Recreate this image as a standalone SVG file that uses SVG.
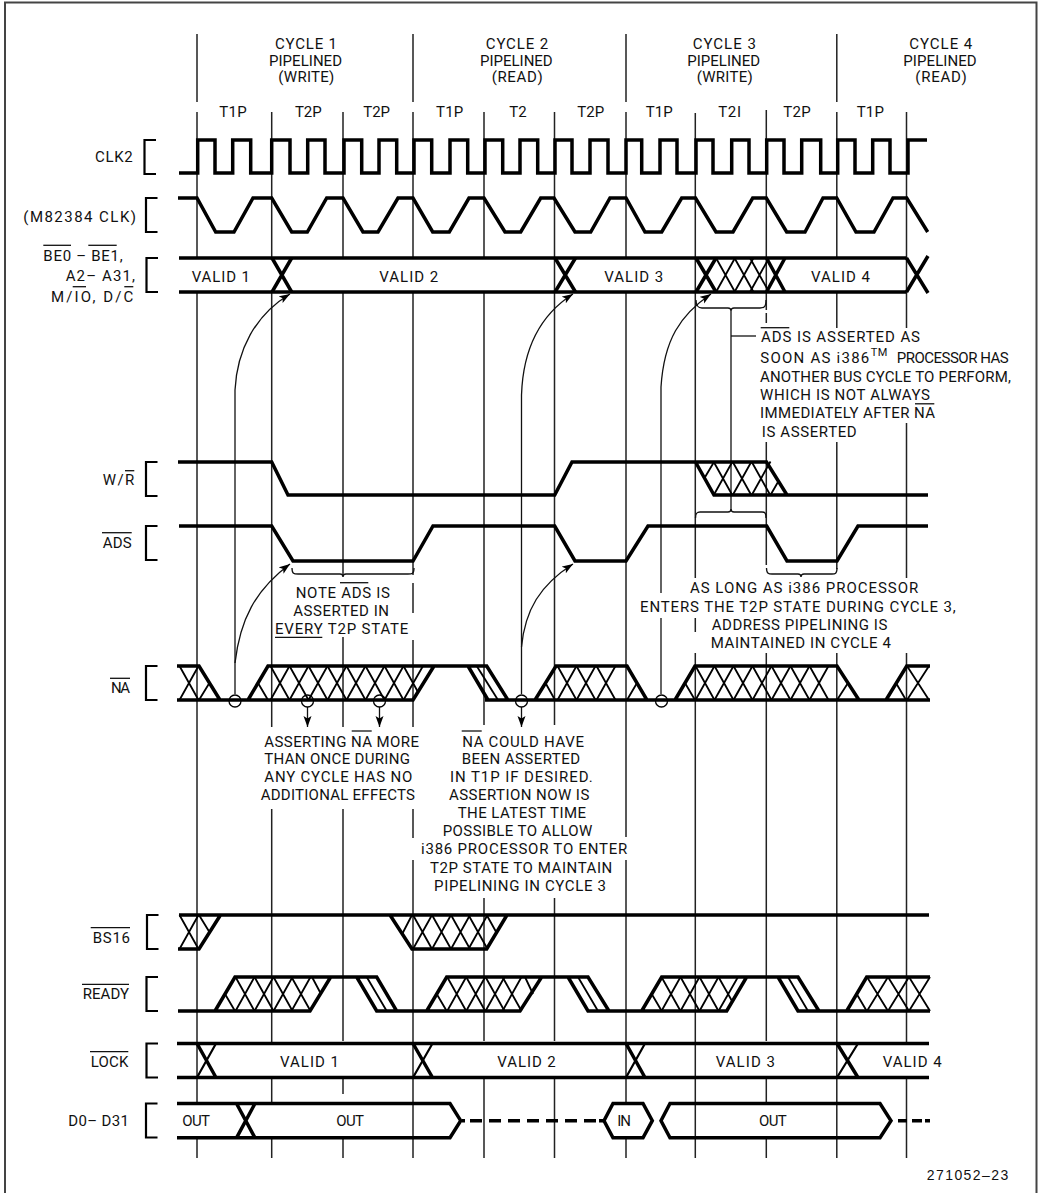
<svg xmlns="http://www.w3.org/2000/svg" width="1041" height="1193" viewBox="0 0 1041 1193">
<style>
text{font-family:Roboto,"Liberation Sans",Arial,sans-serif;font-size:15px;fill:#111}
.sm{font-size:11px}
.fig{font-family:"Liberation Sans",Arial,sans-serif;font-size:14px}
path,line{fill:none;stroke:#000}
.w{stroke-width:3.5;stroke-linejoin:miter}
.n{stroke-width:1.8}
.b{stroke-width:2.2}
.g{stroke-width:1.5;stroke:#222}
.o{stroke-width:1.3;stroke:#111}
.d{stroke-width:3.5;stroke-dasharray:12 7}
circle{fill:none;stroke:#000;stroke-width:1.3}
</style>
<defs>
<path id="x" class="n" d="M-9.5 -17L9.5 17M-9.5 17L9.5 -17"/>
<path id="br" class="b" d="M11.5 0H0V34H11.5"/>
<marker id="ah" markerUnits="userSpaceOnUse" markerWidth="12" markerHeight="10" refX="11" refY="4" orient="auto"><path d="M0 0L11 4L0 8L2.5 4Z" style="fill:#000;stroke:none"/></marker>
</defs>
<rect width="1041" height="1193" fill="#fff"/>
<path id="frame" d="M5 1193V2.5H1036.5V1193" style="stroke:#444;stroke-width:2"/>

<g id="connectors">
<g id="grid">
<path class="g" d="M197 34V102M197 112V258M197 292V1103M197 1138V1158"/>
<path class="g" d="M271.7 112V258M271.7 292V727M271.7 809V1043M271.7 1078V1103M271.7 1138V1158"/>
<path class="g" d="M343 112V258M343 292V575M343 637V727M343 809V1041M343 1078V1094M343 1138V1158"/>
<path class="g" d="M413 34V102M413 112V258M413 292V575M413 583V613M413 640V727M413 809V838M413 860V1158"/>
<path class="g" d="M484 112V258M484 292V725M484 898V1041M484 1078V1158"/>
<path class="g" d="M554.5 112V725M554.5 898V1041M554.5 1078V1158"/>
<path class="g" d="M626 34V102M626 112V258M626 292V837M626 860V1103M626 1138V1158"/>
<path class="g" d="M695.3 113V578M695.3 618V632M695.3 653V1158"/>
<path class="g" d="M766.3 110V310M766.3 313V323M766.3 442V565M766.3 653V1041M766.3 1078V1103M766.3 1138V1158"/>
<path class="g" d="M836.8 34V102M836.8 112V258M836.8 292V328M836.8 442V569M836.8 653V1158"/>
<path class="g" d="M906.5 112V328M906.5 423V578M906.5 653V1043M906.5 1078V1158"/>
</g>
<g id="arrows">
<path class="o" d="M235 694V390C237 350 255 315 290 294" marker-end="url(#ah)"/>
<path class="o" d="M235 663C240 620 255 590 290 564" marker-end="url(#ah)"/>
<path class="o" d="M521.5 694V395C523 350 540 315 573 294" marker-end="url(#ah)"/>
<path class="o" d="M521.5 647C525 610 540 585 573 564" marker-end="url(#ah)"/>
<path class="o" d="M661 593V387C664 340 680 315 711 294" marker-end="url(#ah)"/>
<path class="o" d="M661 618V694"/>
<path class="o" d="M307.5 707V727" marker-end="url(#ah)"/>
<path class="o" d="M379.5 707V727" marker-end="url(#ah)"/>
<path class="o" d="M521.5 707V727" marker-end="url(#ah)"/>
<circle cx="235" cy="701" r="6"/>
<circle cx="307.5" cy="701" r="6"/>
<circle cx="379.5" cy="701" r="6"/>
<circle cx="521.5" cy="701" r="6"/>
<circle cx="661.5" cy="701" r="6"/>
</g>
<g id="braces">
<path class="o" d="M292 568C292 574 294 574 298 574H340C342 574 343 575 343 577C343 575 344 574 346 574H408C412 574 414 574 414 568"/>
<path class="o" d="M696 300C696 307 699 308 702 308H728C730 308 731 309 731 311C731 309 732 308 734 308H760C764 308 766 307 766 300"/>
<path class="o" d="M731 311V511"/>
<path class="o" d="M731 336H756"/>
<path class="o" d="M695.5 518C695.5 513 697 512 700 512H728C730 512 731 511 731 509C731 511 732 512 734 512H762C765 512 766 513 766 518"/>
<path class="o" d="M766.5 568C766.5 574 769 574 772 574H798C800 574 801 575 801 577C801 575 802 574 804 574H832C835 574 837 574 837 568"/>
</g>
</g>

<g id="headers">
<text x="275" y="49.3" textLength="62">CYCLE 1</text>
<text x="269" y="65.7" textLength="73">PIPELINED</text>
<text x="278.3" y="81.7" textLength="56">(WRITE)</text>
<text x="485.7" y="49.3" textLength="62.6">CYCLE 2</text>
<text x="480" y="65.7" textLength="72.7">PIPELINED</text>
<text x="491.7" y="81.7" textLength="51">(READ)</text>
<text x="692.7" y="49.3" textLength="63.3">CYCLE 3</text>
<text x="687.3" y="65.7" textLength="72.7">PIPELINED</text>
<text x="696.7" y="81.7" textLength="56">(WRITE)</text>
<text x="909.3" y="49.3" textLength="63">CYCLE 4</text>
<text x="903.3" y="65.7" textLength="73.4">PIPELINED</text>
<text x="915.3" y="81.7" textLength="51.4">(READ)</text>
</g>
<g id="states">
<text x="219.3" y="117.3" textLength="27.4">T1P</text>
<text x="295" y="117.3" textLength="26.7">T2P</text>
<text x="363.3" y="117.3" textLength="26.7">T2P</text>
<text x="436" y="117.3" textLength="27.3">T1P</text>
<text x="509.3" y="117.3" textLength="17.4">T2</text>
<text x="577.3" y="117.3" textLength="27">T2P</text>
<text x="645.7" y="117.3" textLength="27">T1P</text>
<text x="718.3" y="117.3" textLength="22.7">T2I</text>
<text x="783.3" y="117.3" textLength="27.4">T2P</text>
<text x="856.7" y="117.3" textLength="27.3">T1P</text>
</g>

<g id="clk2">
<text x="95" y="162.3" textLength="37.7">CLK2</text>
<use href="#br" x="144.5" y="140"/>
<path class="w" d="M179 173H197.7V140H215V173H232.7V140H250.7V173H271.7V140H290V173H307.7V140H325V173H344V140H361.7V173H379V140H396.7V173H414V140H431.7V173H450V140H467.7V173H485V140H502.7V173H520V140H537.7V173H555V140H572V173H590V140H608V173H626V140H641.7V173H660V140H677V173H696V140H713V173H731.7V140H749V173H766.7V140H784V173H801.7V140H820.7V173H837.7V140H855V173H872.7V140H890V173H908V140H927"/>
</g>
<g id="m82384">
<text x="23.3" y="221.7" textLength="112.7">(M82384 CLK)</text>
<use href="#br" x="146" y="198"/>
<path class="w" d="M178 198H197L215.7 232H234L253 198H271.7L291.7 232H307.3L326.7 198H343L363 232H378L398 198H413L432.7 232H449.3L469 198H484L505 232H520.7L540.7 198H554L575 232H590.7L610 198H626L645 232H661.7L681.7 198H695.5L716 232H733L752.7 198H766.3L786.7 232H805L823 198H836.7L856 232H874L893 198H906.7L927.7 232"/>
</g>
<g id="bus">
<text x="43.3" y="260.7" textLength="79.4">BE0 – BE1,</text>
<line class="o" x1="43.3" y1="245.3" x2="71" y2="245.3"/>
<line class="o" x1="88.3" y1="245.3" x2="116.7" y2="245.3"/>
<text x="65.7" y="280.7" textLength="69.3">A2– A31,</text>
<text x="51" y="302.3" textLength="82.3">M/IO, D/C</text>
<line class="o" x1="72.7" y1="286.7" x2="86" y2="286.7"/>
<line class="o" x1="124.3" y1="286.7" x2="133.3" y2="286.7"/>
<use href="#br" x="146.5" y="258"/>
<path class="w" d="M179 258H906.5M179 292H906.5"/>
<path class="w" d="M272 258L291.7 292M272 292L291.7 258M555 258L575.5 292M555 292L575.5 258M696 258L716 292M696 292L716 258M766.5 258L785 292M766.5 292L785 258M906.5 292L928 256M906.5 258L928 293"/>
<use href="#x" x="725.5" y="275"/><use href="#x" x="744" y="275"/>
<use href="#x" x="759.5" y="275"/>
<text x="191.7" y="281.7" textLength="58.3">VALID 1</text>
<text x="379.3" y="281.7" textLength="59">VALID 2</text>
<text x="604.3" y="281.7" textLength="59">VALID 3</text>
<text x="811" y="281.7" textLength="59">VALID 4</text>
</g>
<g id="wr">
<text x="102.7" y="485" textLength="31.6">W/R</text>
<line class="o" x1="125" y1="470.7" x2="134.3" y2="470.7"/>
<use href="#br" x="146" y="462"/>
<path class="w" d="M178 462H271.7L288 495H554.7L572 462H766.5L787 495H928M695.5 462L714 495H787"/>
<g><use href="#x" x="723" y="478.5"/><use href="#x" x="742" y="478.5"/><use href="#x" x="761" y="478.5"/></g>
<path class="n" d="M704.5 478L714 462M770.5 495L778 482"/>
</g>
<g id="ads">
<text x="102.7" y="548.3" textLength="29">ADS</text>
<line class="o" x1="102" y1="532.7" x2="131.7" y2="532.7"/>
<use href="#br" x="146" y="526"/>
<path class="w" d="M179 526H271.7L293 561H413L433 526H554.7L575 561H626L648 526H766.7L787 561H837L858 526H928"/>
</g>
<g id="na">
<text x="111" y="693.3" textLength="19">NA</text>
<line class="o" x1="110" y1="678.3" x2="130" y2="678.3"/>
<use href="#br" x="146" y="666"/>
<path class="w" d="M177 666H199L220 700M177 700H413L434 666M248 700L268 666H486.7L508 700H485M468 666L488 700M508 700H647L627 666H556L535 700M647 700H859L837 666H695L675 700M859 700H930M886 700L906.7 666H930"/>
<path class="n" d="M476.7 666L498 700"/>
<g><use href="#x" x="189" y="683"/>
<use href="#x" x="280" y="683"/><use href="#x" x="299" y="683"/><use href="#x" x="318" y="683"/><use href="#x" x="337" y="683"/><use href="#x" x="356" y="683"/><use href="#x" x="375" y="683"/><use href="#x" x="394" y="683"/>
<use href="#x" x="567" y="683"/><use href="#x" x="586" y="683"/><use href="#x" x="606" y="683"/>
<use href="#x" x="705" y="683"/><use href="#x" x="724" y="683"/><use href="#x" x="743" y="683"/><use href="#x" x="762" y="683"/><use href="#x" x="781" y="683"/><use href="#x" x="800" y="683"/><use href="#x" x="819" y="683"/></g>
<path class="n" d="M199 700L210 682M258 683L268 700M403.5 666L418 692M403.5 700L423 666M545.5 683L555 700M627 700L637 683M685 683L695 700M837 700L848 683M896 683L906 700M907 666L929 700M907 700L929 666"/>
</g>
<g id="bs16">
<text x="92.7" y="942.7" textLength="37.3">BS16</text>
<line class="o" x1="90.7" y1="927.7" x2="130" y2="927.7"/>
<use href="#br" x="147" y="915"/>
<path class="w" d="M179 915H929M178 949H199L220.5 915M390 915L412 949H486.7L507 915"/>
<g><use href="#x" x="189" y="932"/>
<use href="#x" x="422.5" y="932"/><use href="#x" x="441.5" y="932"/><use href="#x" x="460.5" y="932"/><use href="#x" x="478" y="932"/></g>
<path class="n" d="M199 915L210 933M402.7 933L412 915M486.7 915L496.7 933"/>
</g>
<g id="ready">
<text x="82.7" y="999.3" textLength="46.3">READY</text>
<line class="o" x1="82" y1="984.3" x2="129" y2="984.3"/>
<use href="#br" x="146.5" y="977"/>
<path class="w" d="M178 1011H310L330.7 977M215 1011L235 977H376.7L396.7 1011H376.7L356.7 977M396.7 1011H520L541.7 977H446.7L426.7 1011M541.7 977H588L609 1011H588L568 977M609 1011H726.7L746.7 977H661.7L641.7 1011M746.7 977H798L819 1011H798L778 977M819 1011H930M846.7 1011L866.7 977H930"/>
<path class="n" d="M366.7 977L386.7 1011M578 977L598 1011M788 977L808 1011"/>
<g><use href="#x" x="245" y="994"/><use href="#x" x="264" y="994"/><use href="#x" x="283" y="994"/><use href="#x" x="301" y="994"/>
<use href="#x" x="456.7" y="994"/><use href="#x" x="475.7" y="994"/><use href="#x" x="495" y="994"/><use href="#x" x="512" y="994"/>
<use href="#x" x="671" y="994"/><use href="#x" x="690" y="994"/><use href="#x" x="709" y="994"/></g>
<path class="n" d="M718.5 1011L738 977M718.5 977L732 1001M225 994L235 1011M312 977L321 994M436.7 994L446.7 1011M525 977L533 994M651.7 994L661.7 1011M856.7 994L866.7 1011M867 977L888 1011M867 1011L888 977M888 977L909 1011M888 1011L909 977M909 977L930 1011M909 1011L930 977"/>
</g>
<g id="lock">
<text x="90.7" y="1066.7" textLength="37.6">LOCK</text>
<line class="o" x1="90" y1="1051.7" x2="128.3" y2="1051.7"/>
<use href="#br" x="146.5" y="1043.5"/>
<path class="w" d="M177 1043.5H929M177 1077.5H929M197 1043.5L216 1077.5M413 1043.5L432.5 1077.5M626 1043.5L645 1077.5M837 1043.5L858 1077.5"/>
<path class="b" d="M197 1077.5L216 1043.5M413 1077.5L432.5 1043.5M626 1077.5L645 1043.5M837 1077.5L858 1043.5"/>
<text x="280" y="1066.7" textLength="59">VALID 1</text>
<text x="497.3" y="1066.7" textLength="58.4">VALID 2</text>
<text x="715.7" y="1066.7" textLength="59.3">VALID 3</text>
<text x="882.7" y="1066.7" textLength="59">VALID 4</text>
</g>
<g id="data">
<text x="68.3" y="1126" textLength="60.7">D0– D31</text>
<use href="#br" x="146" y="1103.5"/>
<path class="w" d="M177 1103.5H450L460.7 1120.7L450 1137.8H177M236.5 1103.5L255 1137.8M236.5 1137.8L255 1103.5"/>
<path class="w" d="M613 1103.5H643L652.3 1120.7L643 1137.8H613L604 1120.7Z"/>
<path class="w" d="M670 1103.5H880L891 1120.7L880 1137.8H670L661 1120.7Z"/>
<path class="d" d="M470 1120.7H597"/>
<path class="w" d="M462 1120.7H465M599 1120.7H603M898 1120.7H907M912 1120.7H922M925 1120.7H930"/>
<text x="182.3" y="1125.7" textLength="27.7">OUT</text>
<text x="336.3" y="1125.7" textLength="27.7">OUT</text>
<text x="617.3" y="1125.7" textLength="13.7">IN</text>
<text x="759" y="1125.7" textLength="27.7">OUT</text>
</g>

<g id="note-ads-every">
<text x="295.7" y="598.3" textLength="94.3">NOTE ADS IS</text>
<line class="o" x1="340" y1="582.7" x2="368.3" y2="582.7"/>
<text x="293.3" y="616" textLength="95.7">ASSERTED IN</text>
<text x="275" y="634" textLength="133.3">EVERY T2P STATE</text>
<line class="o" x1="275" y1="637.3" x2="322.3" y2="637.3"/>
</g>
<g id="note-asserting">
<text x="264.3" y="746.7" textLength="154.7">ASSERTING NA MORE</text>
<line class="o" x1="351.7" y1="731" x2="371.7" y2="731"/>
<text x="264.3" y="764.3" textLength="145.7">THAN ONCE DURING</text>
<text x="264.3" y="782.3" textLength="148">ANY CYCLE HAS NO</text>
<text x="260.7" y="800.3" textLength="154.3">ADDITIONAL EFFECTS</text>
</g>
<g id="note-t1p">
<text x="462.3" y="746.7" textLength="121.7">NA COULD HAVE</text>
<line class="o" x1="461.7" y1="731" x2="481.7" y2="731"/>
<text x="461.7" y="764.3" textLength="118.3">BEEN ASSERTED</text>
<text x="450" y="782.3" textLength="142.7">IN T1P IF DESIRED.</text>
<text x="449" y="800.3" textLength="140.3">ASSERTION NOW IS</text>
<text x="457.7" y="818.3" textLength="128.3">THE LATEST TIME</text>
<text x="442.7" y="836.3" textLength="149.6">POSSIBLE TO ALLOW</text>
<text x="421" y="854.3" textLength="206.3">i386 PROCESSOR TO ENTER</text>
<text x="430" y="872.7" textLength="182.3">T2P STATE TO MAINTAIN</text>
<text x="434" y="890.7" textLength="172">PIPELINING IN CYCLE 3</text>
</g>
<g id="note-soon">
<text x="761" y="342.3" textLength="159">ADS IS ASSERTED AS</text>
<line class="o" x1="760.7" y1="327.7" x2="789.3" y2="327.7"/>
<text x="760.3" y="363.3" textLength="109">SOON AS i386</text>
<text class="sm" x="870.7" y="356" textLength="16.6">TM</text>
<text x="896.7" y="363.3" textLength="112">PROCESSOR HAS</text>
<text x="760" y="381.7" textLength="251">ANOTHER BUS CYCLE TO PERFORM,</text>
<text x="760" y="400" textLength="170">WHICH IS NOT ALWAYS</text>
<line class="o" x1="915" y1="403.8" x2="934.3" y2="403.8"/>
<text x="760" y="418.3" textLength="175">IMMEDIATELY AFTER NA</text>
<text x="761.7" y="436.7" textLength="95">IS ASSERTED</text>
</g>
<g id="note-long">
<text x="690" y="593.3" textLength="228.3">AS LONG AS i386 PROCESSOR</text>
<text x="640" y="611.7" textLength="315.7">ENTERS THE T2P STATE DURING CYCLE 3,</text>
<text x="711.7" y="630" textLength="175.6">ADDRESS PIPELINING IS</text>
<text x="710.7" y="648.3" textLength="180.3">MAINTAINED IN CYCLE 4</text>
</g>
<text id="figure-number" class="fig" x="926.7" y="1180" textLength="81.6">271052–23</text>
</svg>
